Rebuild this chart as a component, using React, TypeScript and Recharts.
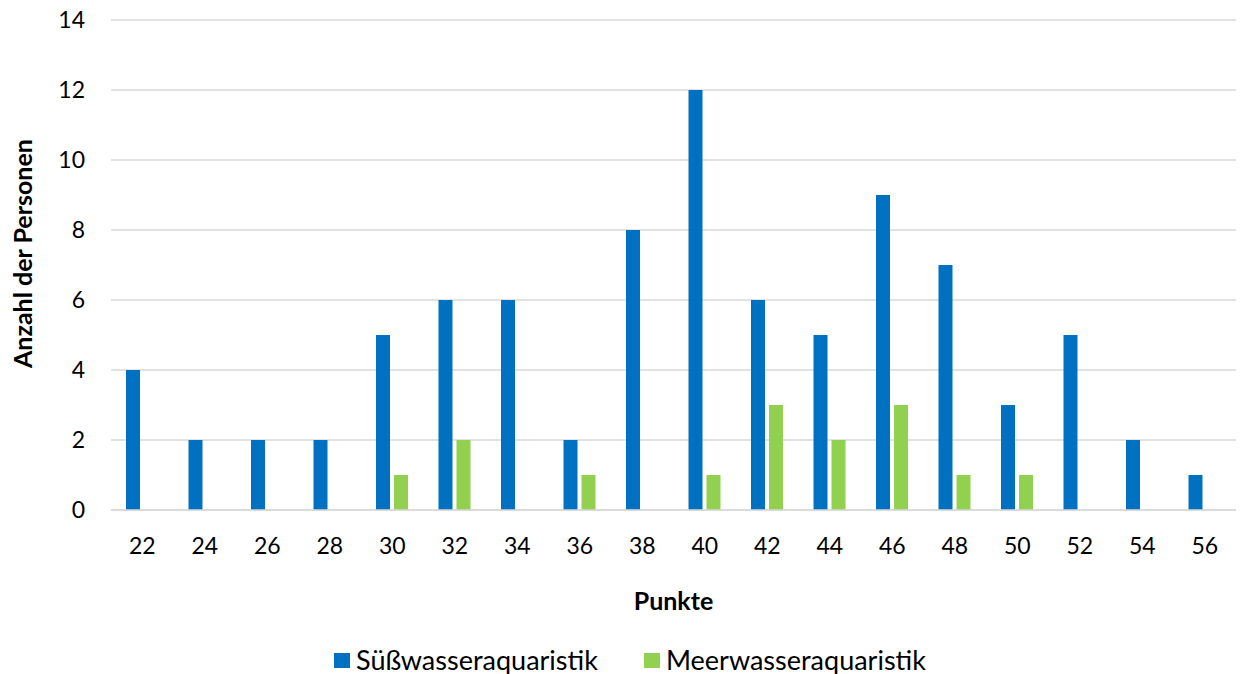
import React from 'react';
import { BarChart, Bar, XAxis, YAxis, CartesianGrid, Legend } from 'recharts';

// Punkte (x-axis categories)
const punkte = ['22', '24', '26', '28', '30', '32', '34', '36', '38', '40', '42', '44', '46', '48', '50', '52', '54', '56'];
const suesswasser = [4, 2, 2, 2, 5, 6, 6, 2, 8, 12, 6, 5, 9, 7, 3, 5, 2, 1];
const meerwasser = [0, 0, 0, 0, 1, 2, 0, 1, 0, 1, 3, 2, 3, 1, 1, 0, 0, 0];
const yTicks = [0, 2, 4, 6, 8, 10, 12, 14];

const data = punkte.map((p, i) => ({
  punkte: p,
  sues: suesswasser[i],
  meer: meerwasser[i],
}));

const FONT = 'Lato, "Open Sans", sans-serif';

const legendItems = [
  { label: 'Süßwasseraquaristik', color: '#0070C0' },
  { label: 'Meerwasseraquaristik', color: '#92D050' },
];

function ChartLegend() {
  return (
    <div style={{ display: 'flex', justifyContent: 'center', gap: 46, paddingTop: 24, marginLeft: 24, fontFamily: FONT, fontSize: 27, lineHeight: '32px', color: '#000' }}>
      {legendItems.map((it) => (
        <div key={it.label} style={{ display: 'flex', alignItems: 'center' }}>
          <span style={{ display: 'inline-block', width: 16, height: 15, background: it.color, marginRight: 6 }} />
          <span>{it.label}</span>
        </div>
      ))}
    </div>
  );
}

export default function App() {
  return (
    <div style={{ position: 'absolute', left: 0, top: 0, width: 1241, height: 674, background: '#fff' }}>
      <BarChart
        width={1241}
        height={674}
        data={data}
        margin={{ top: 20, right: 5, left: 0, bottom: 0 }}
        barGap={4}
        barSize={14}
      >
        <CartesianGrid vertical={false} stroke="#d9d9d9" strokeWidth={1.5} />
        <XAxis
          dataKey="punkte"
          height={110}
          tickLine={false}
          axisLine={{ stroke: '#d9d9d9', strokeWidth: 1.5 }}
          tickMargin={22}
          tick={{ fontSize: 23, fill: '#000', fontFamily: FONT }}
          interval={0}
          label={{ value: 'Punkte', position: 'insideBottom', offset: 10, fontSize: 25, fontWeight: 'bold', fill: '#000', fontFamily: FONT }}
        />
        <YAxis
          width={111}
          domain={[0, 14]}
          ticks={yTicks}
          tickLine={false}
          axisLine={false}
          tickSize={0}
          tickMargin={26}
          tick={{ fontSize: 23, fill: '#000', fontFamily: FONT }}
          label={{ value: 'Anzahl der Personen', angle: -90, position: 'insideLeft', offset: 23, dy: 103, fontSize: 25, fontWeight: 'bold', fill: '#000', fontFamily: FONT }}
        />
        <Legend verticalAlign="bottom" height={54} content={<ChartLegend />} />
        <Bar dataKey="sues" name="Süßwasseraquaristik" fill="#0070C0" isAnimationActive={false} />
        <Bar dataKey="meer" name="Meerwasseraquaristik" fill="#92D050" isAnimationActive={false} />
      </BarChart>
    </div>
  );
}
